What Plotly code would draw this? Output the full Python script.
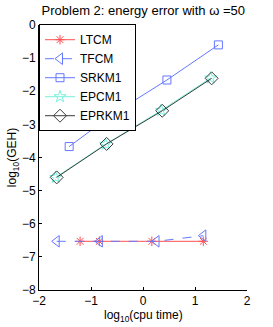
import plotly.graph_objects as go

# data (log10 cpu time, log10 GEH)
ltcm_x = [-1.21, -0.84, 0.17, 1.16]
ltcm_y = [-6.53, -6.53, -6.53, -6.53]
tfcm_x = [-1.66, -0.83, 0.26, 1.16]
tfcm_y = [-6.53, -6.53, -6.53, -6.36]
srkm1_x = [-1.42, -0.55, 0.46, 1.45]
srkm1_y = [-3.67, -2.66, -1.66, -0.60]
epcm1_x = [-1.68, -0.72, 0.35, 1.30]
epcm1_y = [-4.60, -3.60, -2.58, -1.60]
eprkm1_x = [-1.66, -0.70, 0.37, 1.32]
eprkm1_y = [-4.60, -3.59, -2.59, -1.61]

x_ticks = [-2, -1, 0, 1, 2]
x_labels = ["−2", "−1", "0", "1", "2"]
y_ticks = [0, -1, -2, -3, -4, -5, -6, -7, -8]
y_labels = ["0", "−1", "−2", "−3", "−4", "−5", "−6", "−7", "−8"]

FONT = "Liberation Sans, Arial, sans-serif"

fig = go.Figure()
fig.add_trace(go.Scatter(x=ltcm_x, y=ltcm_y, name="LTCM", mode="lines+markers",
                         line=dict(color="rgb(255,80,80)", width=1),
                         marker=dict(symbol="asterisk-open", size=8, color="rgb(255,80,80)",
                                     line=dict(width=1, color="rgb(255,80,80)"))))
fig.add_trace(go.Scatter(x=tfcm_x, y=tfcm_y, name="TFCM", mode="lines+markers",
                         line=dict(color="rgb(100,120,255)", width=1, dash="dash"),
                         marker=dict(symbol="triangle-left-open", size=10, color="rgb(100,120,255)",
                                     line=dict(width=1))))
fig.add_trace(go.Scatter(x=srkm1_x, y=srkm1_y, name="SRKM1", mode="lines+markers",
                         line=dict(color="rgb(100,120,255)", width=1),
                         marker=dict(symbol="square-open", size=8, color="rgb(100,120,255)",
                                     line=dict(width=1))))
fig.add_trace(go.Scatter(x=epcm1_x, y=epcm1_y, name="EPCM1", mode="lines+markers",
                         line=dict(color="rgb(120,240,220)", width=1),
                         marker=dict(symbol="star-open", size=9, color="rgb(120,240,220)",
                                     line=dict(width=1))))
fig.add_trace(go.Scatter(x=eprkm1_x, y=eprkm1_y, name="EPRKM1", mode="lines+markers",
                         line=dict(color="rgb(60,60,60)", width=1),
                         marker=dict(symbol="diamond-open", size=10, color="rgb(60,60,60)",
                                     line=dict(width=1))))

fig.update_layout(
    width=273, height=327,
    margin=dict(l=39, r=26, t=25, b=37, autoexpand=False),
    paper_bgcolor="white", plot_bgcolor="white",
    font=dict(family=FONT, size=12, color="black"),
    title=dict(text="Problem 2: energy error with ω =50", x=0.525, xanchor="center",
               xref="container", yref="container",
               y=0.968, yanchor="middle", font=dict(size=13)),
    showlegend=True,
    legend=dict(x=0, y=1.003, xanchor="left", yanchor="top", bgcolor="white",
                bordercolor="black", borderwidth=1, font=dict(size=12),
                tracegroupgap=0, itemwidth=30),
    xaxis=dict(range=[-2, 2], tickvals=x_ticks, ticktext=x_labels, automargin=False,
               showgrid=False, zeroline=False, showline=True, linecolor="black", linewidth=1,
               ticks="inside", ticklen=3, tickcolor="black", tickfont=dict(size=12)),
    yaxis=dict(range=[-8, 0], tickvals=y_ticks, ticktext=y_labels, automargin=False,
               showgrid=False, zeroline=False, showline=True, linecolor="black", linewidth=1,
               ticks="inside", ticklen=3, tickcolor="black", tickfont=dict(size=12),
               title=dict(text="log<sub>10</sub>(GEH)", standoff=2, font=dict(size=12))),
    annotations=[dict(text="log<sub>10</sub>(cpu time)", xref="paper", yref="paper",
                      x=0.5, y=-26 / 265, xanchor="center", yanchor="middle",
                      showarrow=False, font=dict(size=12))],
)

fig.write_html("out.html", post_script="document.body.style.margin='0';",
               config={"displayModeBar": False})
